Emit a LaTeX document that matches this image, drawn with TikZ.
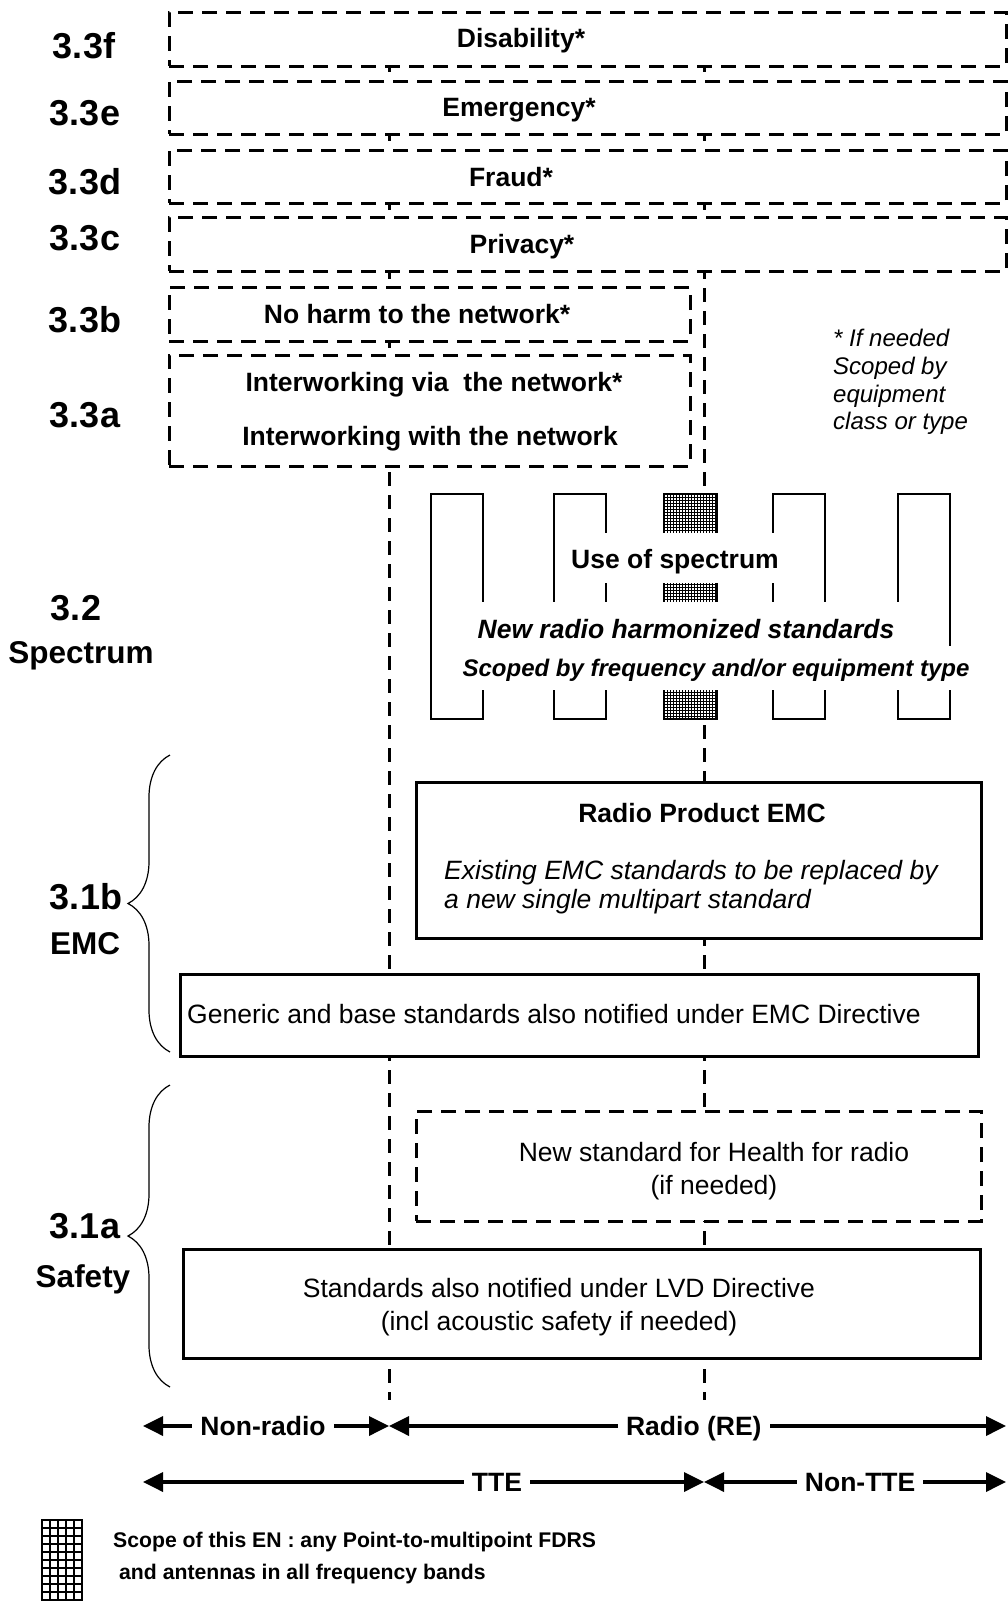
\documentclass[tikz,border=0pt]{standalone}
\usepackage{fontspec}
\setmainfont{Liberation Sans}
\usepackage{tikz}
\usetikzlibrary{arrows.meta}
\usetikzlibrary{decorations.pathreplacing}
\usetikzlibrary{calc}
\tikzset{
	every node/.style={font=\bfseries\fontsize{26.5}{32}\selectfont, inner sep=0pt}
}
\tikzset{
	secnum/.style={font=\bfseries\fontsize{36}{40}\selectfont},
	secname/.style={font=\bfseries\fontsize{31.5}{36}\selectfont},
	dashbox/.style={draw, fill=white, line width=3pt, dash pattern=on 15pt off 9pt},
	solidbox/.style={draw, fill=white, line width=3pt},
	guideline/.style={line width=3pt, dash pattern=on 14pt off 9pt},
	bandbox/.style={line width=2.5pt},
	hatchline/.style={line width=0.75pt},
	plaintext/.style={font=\fontsize{26.5}{33}\selectfont},
	notetext/.style={font=\itshape\fontsize{26.5}{29}\selectfont},
	rangearrow/.style={line width=3.5pt, {Triangle[length=20pt,width=19pt]}-{Triangle[length=20pt,width=19pt]}},
	rangelabel/.style={fill=white, inner xsep=8pt, inner ysep=2pt},
	secbrace/.style={decorate, decoration={brace, amplitude=42pt}, line width=1.2pt},
	legendtext/.style={font=\bfseries\fontsize{21.2}{25}\selectfont, anchor=west}
}

\begin{document}
\begin{tikzpicture}[x=1pt,y=-1pt]
      \useasboundingbox (0,0) rectangle (1008,1606);
      % radio / TTE borders
      \coordinate (nrTop) at (389,12);
      \coordinate (nrBot) at (389,1400);
      \coordinate (teTop) at (704,12);
      \coordinate (teBot) at (704,1400);
      \draw[guideline] (nrTop) -- (nrBot);
      \draw[guideline] (teTop) -- (teBot);

      % 3.3 boxes
      \node[dashbox, minimum width=837pt, minimum height=54pt] (disab) at (587.5,39) {};
      \node (disabtxt) at (521,41) {Disability*};
      \node[dashbox, minimum width=837pt, minimum height=53pt] (emerg) at (587.5,107.5) {};
      \node (emergtxt) at (519,110) {Emergency*};
      \node[dashbox, minimum width=837pt, minimum height=53pt] (fraud) at (587.5,176.5) {};
      \node (fraudtxt) at (511,177) {Fraud*};
      \node[dashbox, minimum width=837pt, minimum height=54pt] (priv) at (587.5,244) {};
      \node (privtxt) at (522,247) {Privacy*};
      \node[dashbox, minimum width=521pt, minimum height=54pt] (noharm) at (429.5,314) {};
      \node (noharmtxt) at (417,314) {No harm to the network*};
      \node[dashbox, minimum width=521pt, minimum height=111pt] (interw) at (429.5,410.5) {};
      \node (interwvia) at (434,385) {Interworking via\ \ the network*};
      \node (interwwith) at (430,439) {Interworking with the network};
      \node[font=\itshape\fontsize{24}{27.7}\selectfont, align=left, anchor=west] (ifneeded) at (833,382)
            {* If needed\\Scoped by\\equipment\\class or type};

      % section labels
      \node[secnum] (s33f) at (84,46) {3.3f};
      \node[secnum] (s33e) at (85,113) {3.3e};
      \node[secnum] (s33d) at (85,182) {3.3d};
      \node[secnum] (s33c) at (85,238) {3.3c};
      \node[secnum] (s33b) at (85,320) {3.3b};
      \node[secnum] (s33a) at (85,415) {3.3a};
      \node[secnum] (s32) at (76,608) {3.2};
      \node[secname] (spectrum) at (81,656) {Spectrum};
      \node[secnum] (s31b) at (86,897) {3.1b};
      \node[secname] (emc) at (85,944) {EMC};
      \node[secnum] (s31a) at (85,1226) {3.1a};
      \node[secname] (safety) at (83,1279) {Safety};

      % 3.2 spectrum bands
      \foreach \bx in {431,554,773,898}
            \draw[bandbox] (\bx,494) rectangle ++(52,225);
      \fill[white] (664,494) rectangle (717,719);
      \foreach \gx in {667,670,...,715}
            \draw[hatchline] (\gx,494) -- (\gx,719);
      \foreach \gy in {497,500,...,717}
            \draw[hatchline] (664,\gy) -- (717,\gy);
      \draw[bandbox] (664,494) rectangle (717,719);
      \fill[white] (557,533) rectangle (790,583);
      \fill[white] (476,602) rectangle (944,646);
      \fill[white] (471,646) rectangle (962,690);
      \node (usespec) at (675,562) {Use of spectrum};
      \node[font=\bfseries\itshape\fontsize{26.5}{32}\selectfont] (newradio) at (686,629) {New radio harmonized standards};
      \node[font=\bfseries\itshape\fontsize{24}{28}\selectfont] (scopedfreq) at (716,670) {Scoped by frequency and/or equipment type};

      % 3.1b EMC
      \node[solidbox, minimum width=565pt, minimum height=156pt] (radioemc) at (698.5,860) {};
      \node (radioemctitle) at (702,813) {Radio Product EMC};
      \node[notetext, anchor=west, align=left] (radioemcnote) at (444,887)
            {Existing EMC standards to be replaced by\\a new single multipart standard};
      \node[solidbox, minimum width=798pt, minimum height=82pt] (generic) at (579,1015) {};
      \node[plaintext, anchor=west] (generictxt) at (187,1014) {Generic and base standards also notified under EMC Directive};

      % 3.1a safety
      \node[dashbox, minimum width=565pt, minimum height=110pt] (health) at (698.5,1166) {};
      \node[plaintext, align=center] (healthtxt) at (714,1171) {New standard for Health for radio\\(if needed)};
      \node[solidbox, minimum width=797pt, minimum height=109pt] (lvd) at (581.5,1303.5) {};
      \node[plaintext, align=center] (lvdtxt) at (559,1307) {Standards also notified under LVD Directive\\(incl acoustic safety if needed)};

      % braces
      \coordinate (emcBot) at (170,1052);
      \coordinate (emcTop) at (170,755);
      \coordinate (safeBot) at (170,1387);
      \coordinate (safeTop) at (170,1085);
      \draw[secbrace] (emcBot) -- (emcTop);
      \draw[secbrace] (safeBot) -- (safeTop);

      % scope arrows
      \coordinate (nrL) at (143,1426);
      \coordinate (nrR) at (389,1426);
      \coordinate (reR) at (1006,1426);
      \draw[rangearrow] (nrL) -- node[rangelabel, pos=0.488] (nonradio) {Non-radio} (nrR);
      \draw[rangearrow] (nrR) -- node[rangelabel, pos=0.494, yshift=-3pt] (radiore) {Radio (RE)} (reR);
      \coordinate (tteL) at (143,1482);
      \coordinate (tteM) at (704,1482);
      \coordinate (tteR) at (1006,1482);
      \draw[rangearrow] (tteL) -- node[rangelabel, pos=0.631] (tte) {TTE} (tteM);
      \draw[rangearrow] (tteM) -- node[rangelabel, pos=0.517] (nontte) {Non-TTE} (tteR);

      % legend
      \foreach \gx in {50,58,...,74}
            \draw[line width=1.2pt] (\gx,1520) -- (\gx,1600);
      \foreach \gy in {1528,1536,...,1592}
            \draw[line width=1.2pt] (42,\gy) -- (82,\gy);
      \draw[line width=2pt] (42,1520) rectangle (82,1600);
      \node[legendtext] (scopeen) at (113,1542) {Scope of this EN : any Point-to-multipoint FDRS};
      \node[legendtext] (scopeen2) at (119,1574) {and antennas in all frequency bands};
    \end{tikzpicture}
\end{document}
